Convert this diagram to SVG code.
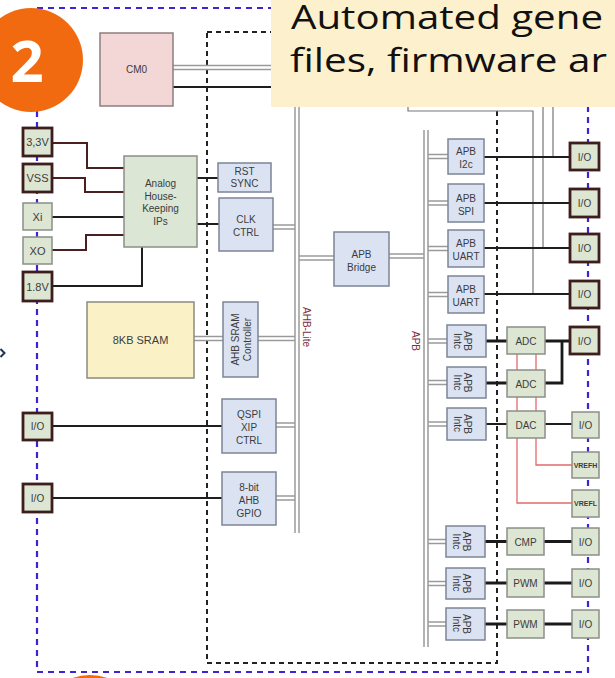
<svg xmlns="http://www.w3.org/2000/svg" width="615" height="678" viewBox="0 0 615 678">
<style>
.bb{fill:#dbe3f3;stroke:#7c8596;stroke-width:1.5}
.gb{fill:#dde6d2;stroke:#8b8f88;stroke-width:1.5}
.io{fill:#dde6d2;stroke:#3e1d1d;stroke-width:2.8}
.t{font-family:"Liberation Sans",Arial,sans-serif;font-size:10px;fill:#3c3c3c;text-anchor:middle}
.pin{font-size:11px}
.sm{font-size:7px;font-weight:bold}
.lbl{font-family:"Liberation Sans",Arial,sans-serif;font-size:10px;fill:#7a3040;text-anchor:middle}
.bo{stroke:#9a9a9a;stroke-width:5.5;fill:none}
.bi{stroke:#ffffff;stroke-width:2.5;fill:none}
.w{stroke:#1e1e1e;stroke-width:2;fill:none}
.wt{stroke:#1a1a1a;stroke-width:2.8;fill:none}
.pw{stroke:#4a1f1f;stroke-width:2;fill:none}
.red{stroke:#e26a6a;stroke-width:1.3;fill:none}
.gl{stroke:#777;stroke-width:1.2;fill:none}
.blue{stroke:#3b23d6;stroke-width:2.2;stroke-dasharray:6 5;fill:none}
.blk{stroke:#222;stroke-width:2;stroke-dasharray:5 4;fill:none}
.co{font-family:"Open Sans","Liberation Sans",sans-serif;font-size:33px;fill:#111111}
</style>
<rect width="615" height="678" fill="#ffffff"/>
<g id="boundaries">
<path class="blue" d="M37 8 H588 V672 H37 Z"/>
<path class="blk" d="M207 32 H497 V663 H207 Z"/>
</g>
<g id="connectors">
<g id="buses">
<path class="bo" d="M173 67.5 H297 M273 227 H297 M297 258 H334 M389 256 H426 M194 338.5 H223 M258 338.5 H297 M276 425 H297 M276 498 H297 M426 156.5 H448 M426 203 H448 M426 248.5 H448 M426 294.5 H448 M426 341 H447 M426 382.5 H447 M426 424 H447 M426 541.5 H447 M426 583.5 H447 M426 624 H447"/>
<path class="bi" d="M173 67.5 H297 M273 227 H297 M297 258 H334 M389 256 H426 M194 338.5 H223 M258 338.5 H297 M276 425 H297 M276 498 H297 M426 156.5 H448 M426 203 H448 M426 248.5 H448 M426 294.5 H448 M426 341 H447 M426 382.5 H447 M426 424 H447 M426 541.5 H447 M426 583.5 H447 M426 624 H447"/>
<path class="bo" d="M297 55 V533 M426 130 V647"/>
<path class="bi" d="M297 55 V533 M426 130 V647"/>
</g>
<path class="gl" d="M408 60 V111 H533 V294 M543 60 V248 M553 60 V157"/>
<path class="w" d="M173 87 H285"/>
<path class="pw" d="M52 143 H87 V168 H124 M52 178 H85 V192 H124 M52 250 H86 V235 H124"/>
<path class="w" d="M52 217 H124 M52 286 H142 V247"/>
<path class="w" d="M197 178 H218 M197 224 H219"/>
<path class="w" d="M52 426 H222 M52 498 H222"/>
<path class="w" d="M484 157 H570 M484 203 H570 M484 248 H570 M484 294 H570"/>
<path class="red" d="M517 354 V503 H572 M536 354 V465 H572"/>
<path class="wt" d="M486 341 H507 M545 341 H570 M562 341 V383 H545 M486 383 H507"/>
<path class="w" d="M486 424 H507 M545 424 H572"/>
<path class="wt" d="M485 541.5 H507 M544 541.5 H572 M485 583 H507 M544 583 H572 M485 624 H507 M544 624 H572"/>
</g>
<g id="cm0"><rect x="100" y="33" width="73" height="73" fill="#f3d6d6" stroke="#8d7d7d" stroke-width="1.5"/><text class="t" x="136.5" y="73">CM0</text></g>
<g id="pin-3v3"><rect class="io" x="23" y="128" width="29" height="28"/><text class="t pin" x="37.5" y="146">3,3V</text></g>
<g id="pin-vss"><rect class="io" x="23" y="164" width="29" height="28"/><text class="t pin" x="37.5" y="182">VSS</text></g>
<g id="pin-xi"><rect class="gb" x="23" y="203" width="29" height="27"/><text class="t pin" x="37.5" y="220.5">Xi</text></g>
<g id="pin-xo"><rect class="gb" x="23" y="237" width="29" height="27"/><text class="t pin" x="37.5" y="254.5">XO</text></g>
<g id="pin-1v8"><rect class="io" x="23" y="272" width="29" height="29"/><text class="t pin" x="37.5" y="290.5">1.8V</text></g>
<g id="analog"><rect x="124" y="156" width="73" height="91" fill="#dbe6d4" stroke="#8b8f88" stroke-width="1.5"/><text class="t" x="160.5" y="187">Analog</text><text class="t" x="160.5" y="199.5">House-</text><text class="t" x="160.5" y="212">Keeping</text><text class="t" x="160.5" y="224.5">IPs</text></g>
<g id="rst-sync"><rect class="bb" x="218" y="163" width="53" height="29"/><text class="t" x="244.5" y="175">RST</text><text class="t" x="244.5" y="187">SYNC</text></g>
<g id="clk-ctrl"><rect class="bb" x="219" y="198" width="54" height="53"/><text class="t" x="246" y="223">CLK</text><text class="t" x="246" y="236">CTRL</text></g>
<g id="apb-bridge"><rect class="bb" x="334" y="232" width="55" height="54"/><text class="t" x="361.5" y="258">APB</text><text class="t" x="361.5" y="270.5">Bridge</text></g>
<g id="sram"><rect x="87" y="302" width="107" height="76" fill="#fbf1c6" stroke="#8b8b80" stroke-width="1.5"/><text class="t" style="font-size:11px" x="140.5" y="344">8KB SRAM</text></g>
<g id="sram-ctrl"><rect class="bb" x="223" y="302" width="35" height="75"/><g transform="translate(240.5,339.5) rotate(-90)"><text class="t" x="0" y="-2">AHB SRAM</text><text class="t" x="0" y="10">Controller</text></g></g>
<g id="qspi"><rect class="bb" x="222" y="399" width="54" height="54"/><text class="t" x="249" y="418">QSPI</text><text class="t" x="249" y="431">XIP</text><text class="t" x="249" y="444">CTRL</text></g>
<g id="gpio"><rect class="bb" x="222" y="472" width="54" height="53"/><text class="t" x="249" y="491">8-bit</text><text class="t" x="249" y="504">AHB</text><text class="t" x="249" y="517">GPIO</text></g>
<g id="io-left-1"><rect class="io" x="23" y="413" width="29" height="27"/><text class="t" x="37.5" y="430">I/O</text></g>
<g id="io-left-2"><rect class="io" x="23" y="484" width="29" height="28"/><text class="t" x="37.5" y="501.5">I/O</text></g>
<g id="bus-labels"><g transform="translate(306,327) rotate(90)"><text class="lbl" x="0" y="3.5">AHB-Lite</text></g><g transform="translate(415,341) rotate(90)"><text class="lbl" x="0" y="3.5">APB</text></g></g>
<g id="apb-i2c"><rect class="bb" x="448" y="139" width="36" height="35"/><text class="t" x="466" y="155">APB</text><text class="t" x="466" y="168">I2c</text></g>
<g id="apb-spi"><rect class="bb" x="448" y="184" width="36" height="38"/><text class="t" x="466" y="201.5">APB</text><text class="t" x="466" y="214.5">SPI</text></g>
<g id="apb-uart1"><rect class="bb" x="448" y="230" width="36" height="37"/><text class="t" x="466" y="247">APB</text><text class="t" x="466" y="260">UART</text></g>
<g id="apb-uart2"><rect class="bb" x="448" y="276" width="36" height="37"/><text class="t" x="466" y="293">APB</text><text class="t" x="466" y="306">UART</text></g>
<g id="io-r1"><rect class="io" x="570" y="143" width="29" height="27"/><text class="t" x="584.5" y="160.5">I/O</text></g>
<g id="io-r2"><rect class="io" x="570" y="189" width="29" height="28"/><text class="t" x="584.5" y="206.5">I/O</text></g>
<g id="io-r3"><rect class="io" x="570" y="234" width="29" height="28"/><text class="t" x="584.5" y="251.5">I/O</text></g>
<g id="io-r4"><rect class="io" x="570" y="281" width="29" height="27"/><text class="t" x="584.5" y="298">I/O</text></g>
<g id="intc1"><rect class="bb" x="447" y="325" width="39" height="32"/><g transform="translate(462,341) rotate(90)"><text class="t" x="0" y="-1.5">APB</text><text class="t" x="0" y="8">Intc</text></g></g>
<g id="intc2"><rect class="bb" x="447" y="367" width="39" height="31"/><g transform="translate(462,382.5) rotate(90)"><text class="t" x="0" y="-1.5">APB</text><text class="t" x="0" y="8">Intc</text></g></g>
<g id="intc3"><rect class="bb" x="447" y="408" width="39" height="32"/><g transform="translate(462,424) rotate(90)"><text class="t" x="0" y="-1.5">APB</text><text class="t" x="0" y="8">Intc</text></g></g>
<g id="intc4"><rect class="bb" x="446" y="526" width="39" height="31"/><g transform="translate(461,541.5) rotate(90)"><text class="t" x="0" y="-1.5">APB</text><text class="t" x="0" y="8">Intc</text></g></g>
<g id="intc5"><rect class="bb" x="446" y="568" width="39" height="31"/><g transform="translate(461,583.5) rotate(90)"><text class="t" x="0" y="-1.5">APB</text><text class="t" x="0" y="8">Intc</text></g></g>
<g id="intc6"><rect class="bb" x="446" y="608" width="39" height="32"/><g transform="translate(461,624) rotate(90)"><text class="t" x="0" y="-1.5">APB</text><text class="t" x="0" y="8">Intc</text></g></g>
<g id="adc1"><rect class="gb" x="507" y="327" width="38" height="27"/><text class="t" x="526" y="344.5">ADC</text></g>
<g id="adc2"><rect class="gb" x="507" y="370" width="38" height="27"/><text class="t" x="526" y="387.5">ADC</text></g>
<g id="dac"><rect class="gb" x="507" y="411" width="38" height="27"/><text class="t" x="526" y="428.5">DAC</text></g>
<g id="cmp"><rect class="gb" x="507" y="528" width="37" height="27"/><text class="t" x="525.5" y="545.5">CMP</text></g>
<g id="pwm1"><rect class="gb" x="507" y="569" width="37" height="28"/><text class="t" x="525.5" y="587">PWM</text></g>
<g id="pwm2"><rect class="gb" x="507" y="610" width="37" height="28"/><text class="t" x="525.5" y="628">PWM</text></g>
<g id="io-adc"><rect class="io" x="570" y="327" width="29" height="27"/><text class="t" x="584.5" y="344.5">I/O</text></g>
<g id="io-dac"><rect class="gb" x="572" y="412" width="27" height="26"/><text class="t" x="585.5" y="428.5">I/O</text></g>
<g id="vrefh"><rect class="gb" x="572" y="452" width="27" height="26"/><text class="t sm" x="585.5" y="467.5">VREFH</text></g>
<g id="vrefl"><rect class="gb" x="572" y="490" width="27" height="27"/><text class="t sm" x="585.5" y="506">VREFL</text></g>
<g id="io-cmp"><rect class="gb" x="572" y="528" width="27" height="27"/><text class="t" x="585.5" y="545.5">I/O</text></g>
<g id="io-pwm1"><rect class="gb" x="572" y="569" width="27" height="28"/><text class="t" x="585.5" y="587">I/O</text></g>
<g id="io-pwm2"><rect class="gb" x="572" y="610" width="27" height="28"/><text class="t" x="585.5" y="628">I/O</text></g>
<g id="overlay">
<path d="M0.5 349 L4.5 353 L0.5 357" stroke="#1d3557" stroke-width="2" fill="none"/>
<circle cx="31" cy="60" r="52" fill="#f26a10"/>
<text x="27" y="82" font-family="'Open Sans','Liberation Sans',sans-serif" font-size="58" font-weight="bold" fill="#ffffff" text-anchor="middle">2</text>
<circle cx="90" cy="727" r="52" fill="#f26a10"/>
<rect x="271" y="0" width="344" height="107" fill="#fdf0cd"/>
<text class="co" x="291" y="29" textLength="312" lengthAdjust="spacingAndGlyphs">Automated gene</text>
<text class="co" x="290" y="72" textLength="317" lengthAdjust="spacingAndGlyphs">files, firmware ar</text>
</g>
</svg>
